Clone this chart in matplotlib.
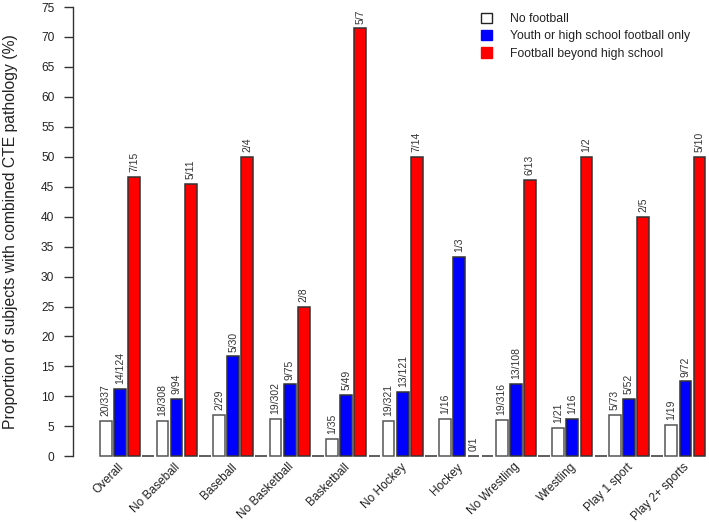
import matplotlib
matplotlib.use("Agg")
import matplotlib.pyplot as plt
from matplotlib.patches import Patch

plt.rcParams['font.family'] = ['Liberation Sans', 'DejaVu Sans']

categories = ["Overall", "No Baseball", "Baseball", "No Basketball", "Basketball",
              "No Hockey", "Hockey", "No Wrestling", "Wrestling", "Play 1 sport",
              "Play 2+ sports"]
series_names = ["No football", "Youth or high school football only",
                "Football beyond high school"]
no_fb_num = [20, 18, 2, 19, 1, 19, 1, 19, 1, 5, 1]
no_fb_den = [337, 308, 29, 302, 35, 321, 16, 316, 21, 73, 19]
youth_num = [14, 9, 5, 9, 5, 13, 1, 13, 1, 5, 9]
youth_den = [124, 94, 30, 75, 49, 121, 3, 108, 16, 52, 72]
beyond_num = [7, 5, 2, 2, 5, 7, 0, 6, 1, 2, 5]
beyond_den = [15, 11, 4, 8, 7, 14, 1, 13, 2, 5, 10]
yticks = list(range(0, 80, 5))

colors = ["white", "#0000FF", "#FF0000"]
edgecols = ["#555555", "#333333", "#333333"]
text_col = "#222222"

W, H = 709, 522
fig = plt.figure(figsize=(W / 100, H / 100), dpi=100)
ax_left = 73.3 / W
ax_bottom = (H - 456.3) / H
ax_top = (H - 7.0) / H
ax = fig.add_axes([ax_left, ax_bottom, 1.0 - ax_left, ax_top - ax_bottom])

space = 0.2
series = [(no_fb_num, no_fb_den), (youth_num, youth_den), (beyond_num, beyond_den)]
ng = len(categories)
for g in range(ng):
    for s, (nums, dens) in enumerate(series):
        k = 4 * g + s
        xc = space + k * (1 + space) + 0.5
        val = 100.0 * nums[g] / dens[g]
        ax.bar(xc, val, width=1.0, color=colors[s], edgecolor=edgecols[s],
               linewidth=1.1, clip_on=False, zorder=2)
        ax.annotate(f"{nums[g]}/{dens[g]}", (xc, val), xytext=(0, 3.5),
                    textcoords="offset points", rotation=90, ha="center",
                    va="bottom", fontsize=7.5, color="#333333")
    if g < ng - 1:
        k = 4 * g + 3
        xc = space + k * (1 + space) + 0.5
        ax.bar(xc, 0, width=1.0, color="white", edgecolor="#333333",
               linewidth=1.1, clip_on=False, zorder=2)
    # category label under the middle bar
    xm = space + (4 * g + 1) * (1 + space) + 0.5
    ax.text(xm - 0.2, -0.8, categories[g], rotation=45, ha="right", va="top",
            rotation_mode="anchor", fontsize=8.6, color=text_col)

u = 11.78
ax.set_xlim(space - (100 - 73.3) / u, space + (W - 100) / u)
ax.set_ylim(0, 75)
ax.set_yticks(yticks)
ax.set_xticks([])
for sp in ["top", "right", "bottom"]:
    ax.spines[sp].set_visible(False)
ax.spines["left"].set_color("#333333")
ax.spines["left"].set_linewidth(1.0)
ax.tick_params(axis="y", length=6.5, width=1.0, pad=7.2, labelsize=8.6,
               colors="#333333", labelcolor=text_col)
ax.patch.set_alpha(0)

fig.text(10.5 / W, 1 - 231.5 / H,
         "Proportion of subjects with combined CTE pathology (%)",
         rotation=90, ha="center", va="center", fontsize=11.3, color=text_col)

handles = [Patch(facecolor="white", edgecolor="#222222", linewidth=1.0),
           Patch(facecolor="#0000FF", edgecolor="#0000FF"),
           Patch(facecolor="#FF0000", edgecolor="#FF0000")]
leg = fig.legend(handles, series_names, loc="upper left",
                 bbox_to_anchor=(481 / W, 1 - 13 / H), frameon=False,
                 fontsize=8.8, handlelength=0.9, handleheight=0.9,
                 handletextpad=1.5, labelspacing=0.4, borderpad=0,
                 borderaxespad=0)
for t in leg.get_texts():
    t.set_color(text_col)

fig.savefig("out.png", dpi=100)
